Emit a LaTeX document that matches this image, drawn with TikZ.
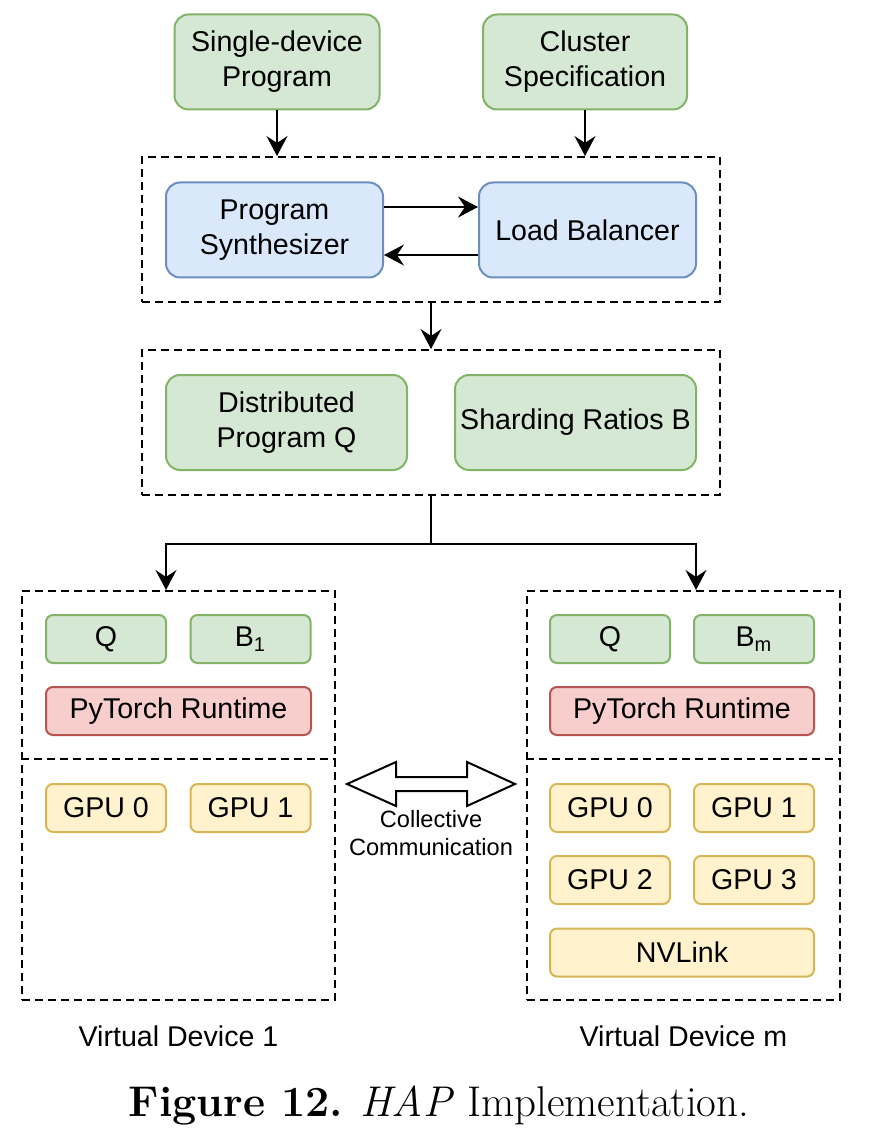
\documentclass[tikz,border=0pt]{standalone}
\usepackage{fontspec}
\setsansfont{Liberation Sans}
\usetikzlibrary{positioning,arrows.meta}
\definecolor{gfill}{HTML}{D5E8D4}\definecolor{gdraw}{HTML}{82B366}
\definecolor{bfill}{HTML}{DAE8FC}\definecolor{bdraw}{HTML}{6C8EBF}
\definecolor{rfill}{HTML}{F8CECC}\definecolor{rdraw}{HTML}{B85450}
\definecolor{yfill}{HTML}{FFF2CC}\definecolor{ydraw}{HTML}{D6B656}
\tikzset{
box/.style={draw, line width=1pt, rounded corners=7pt, align=center, inner sep=0pt, font=\sffamily\fontsize{14.3}{17.5}\selectfont},
bigbox/.style={box, minimum width=#1, minimum height=47.5pt},
smallbox/.style={box, rounded corners=3.5pt, minimum width=#1, minimum height=24pt},
gbox/.style={fill=gfill, draw=gdraw}, bbox/.style={fill=bfill, draw=bdraw},
rbox/.style={fill=rfill, draw=rdraw}, ybox/.style={fill=yfill, draw=ydraw},
frame/.style={draw, dash pattern=on 4pt off 2.5pt, line width=1pt, inner sep=0pt},
arr/.style={-{Stealth[length=10pt, width=10.5pt, inset=3.5pt]}, line width=1pt},
lbl/.style={font=\sffamily\fontsize{14.3}{17.5}\selectfont, align=center}
}
\begin{document}
\begin{tikzpicture}[x=0.5pt,y=-0.5pt]
\useasboundingbox (0,0) rectangle (869,1144);
\node[bigbox=102.5pt, gbox] (single) at (277,62) {Single-device\\Program};
\node[bigbox=102pt, gbox] (cluster) at (585,62) {Cluster\\Specification};

\node[frame, minimum width=289pt, minimum height=72.5pt] (frameA) at (431,229.5) {};
\node[bigbox=108.5pt, bbox] (synth) at (274.5,230) {Program\\Synthesizer};
\node[bigbox=108.5pt, bbox] (balancer) at (587.5,230) {Load Balancer};

\node[frame, minimum width=289pt, minimum height=72.5pt] (frameB) at (431,422.5) {};
\node[bigbox=120.5pt, gbox] (distq) at (286.5,422.5) {Distributed\\Program Q};
\node[bigbox=120.5pt, gbox] (ratios) at (575.5,422.5) {Sharding Ratios B};

\node[frame, minimum width=156.5pt, minimum height=204.5pt] (vd1) at (178.5,795.5) {};
\node[frame, minimum width=156.5pt, minimum height=204.5pt] (vdm) at (683.5,795.5) {};
\draw[frame] ([yshift=-84.5pt]vd1.north west) -- ([yshift=-84.5pt]vd1.north east);
\draw[frame] ([yshift=-84.5pt]vdm.north west) -- ([yshift=-84.5pt]vdm.north east);

\node[smallbox=60pt, gbox] (q1) at (106,639) {Q};
\node[smallbox=60pt, gbox] (b1) at (250.5,639) {B\textsubscript{1}};
\node[smallbox=132.5pt, rbox] (pt1) at (178.5,711) {PyTorch Runtime};
\node[smallbox=60pt, ybox] (gpua0) at (106,808) {GPU 0};
\node[smallbox=60pt, ybox] (gpua1) at (250.5,808) {GPU 1};

\node[smallbox=60pt, gbox] (qm) at (610,639) {Q};
\node[smallbox=60pt, gbox] (bm) at (754,639) {B\textsubscript{m}};
\node[smallbox=132pt, rbox] (ptm) at (682,711) {PyTorch Runtime};
\node[smallbox=60pt, ybox] (gpub0) at (610,808) {GPU 0};
\node[smallbox=60pt, ybox] (gpub1) at (754,808) {GPU 1};
\node[smallbox=60pt, ybox] (gpub2) at (610,880) {GPU 2};
\node[smallbox=60pt, ybox] (gpub3) at (754,880) {GPU 3};
\node[smallbox=132pt, ybox] (nvlink) at (682,952.5) {NVLink};

\draw[arr] (single.south) -- (single.south |- frameA.north);
\draw[arr] (cluster.south) -- (cluster.south |- frameA.north);
\draw[arr] ([yshift=11.5pt]synth.east) -- ([yshift=11.5pt]balancer.west);
\draw[arr] ([yshift=-12.5pt]balancer.west) -- ([yshift=-12.5pt]synth.east);
\draw[arr] (frameA.south) -- (frameB.north);
\draw[line width=1pt] (frameB.south) -- ++(0,48) coordinate (split);
\draw[arr] (split) -| ([xshift=-6.25pt]vd1.north);
\draw[arr] (split) -| ([xshift=6.25pt]vdm.north);

\draw[line width=1pt, fill=white] (347,784) -- (396,762) -- (396,777) -- (467,777) -- (467,762)
  -- (515,784) -- (467,806) -- (467,791) -- (396,791) -- (396,806) -- cycle;
\node[lbl, font=\sffamily\fontsize{11.8}{14}\selectfont] (coll) at (431,833) {Collective\\Communication};

\node[lbl] (vd1lbl) at (178.5,1036) {Virtual Device 1};
\node[lbl] (vdmlbl) at (683.5,1036) {Virtual Device m};
\node (caption) at (439,1105) {\fontsize{21.5}{26}\selectfont\textbf{Figure 12.} \textit{HAP} Implementation.};
\end{tikzpicture}
\end{document}
